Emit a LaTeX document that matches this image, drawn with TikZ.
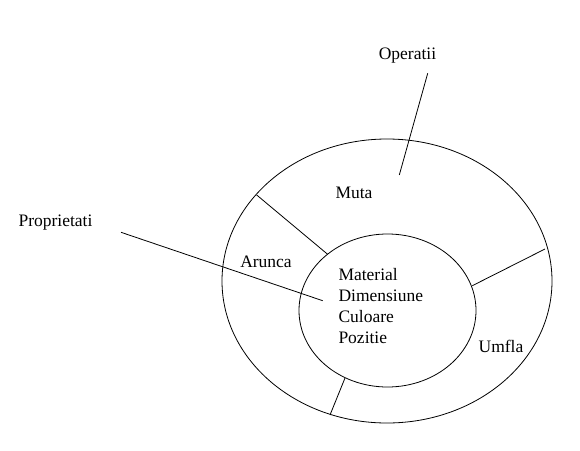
\documentclass[tikz,border=0pt]{standalone}
\usepackage{fontspec}
\setmainfont{Liberation Serif}
\begin{document}
\begin{tikzpicture}[x=1pt,y=-1pt,
  lbl/.style={font=\fontsize{17.5}{21}\selectfont, inner sep=0pt},
  ln/.style={line width=0.8pt, black}]
\useasboundingbox (0,0) rectangle (580,450);
% ellipses
\draw[ln] (387,281) ellipse [x radius=165pt, y radius=142pt];
\draw[ln] (387.5,310.5) ellipse [x radius=88.5pt, y radius=76.5pt];
% coordinates
\coordinate (d1a) at (256.7,195);
\coordinate (d1b) at (327.3,254);
\coordinate (d2a) at (545,249);
\coordinate (d2b) at (472.3,285.7);
\coordinate (d3a) at (345,378);
\coordinate (d3b) at (330,415);
\coordinate (opA) at (427.7,73.3);
\coordinate (opB) at (399.3,175);
\coordinate (prA) at (121,232.3);
\coordinate (prB) at (322.7,300.7);
\draw[ln] (d1a) -- (d1b);
\draw[ln] (d2a) -- (d2b);
\draw[ln] (d3a) -- (d3b);
\draw[ln] (opA) -- (opB);
\draw[ln] (prA) -- (prB);
% labels
\node[lbl, anchor=base] (op) at (407.5,59) {Operatii};
\node[lbl, anchor=base] (muta) at (354,198) {Muta};
\node[lbl, anchor=base] (arunca) at (266,267) {Arunca};
\node[lbl, anchor=base] (prop) at (55.5,226.7) {Proprietati};
\node[lbl, anchor=base] (umfla) at (501,352.7) {Umfla};
\node[lbl, anchor=base west] (mat) at (338.3,280.7) {Material};
\node[lbl, anchor=base west] (dim) at (338.3,301.7) {Dimensiune};
\node[lbl, anchor=base west] (cul) at (338.3,322.7) {Culoare};
\node[lbl, anchor=base west] (poz) at (338.3,343.3) {Pozitie};
\end{tikzpicture}
\end{document}
